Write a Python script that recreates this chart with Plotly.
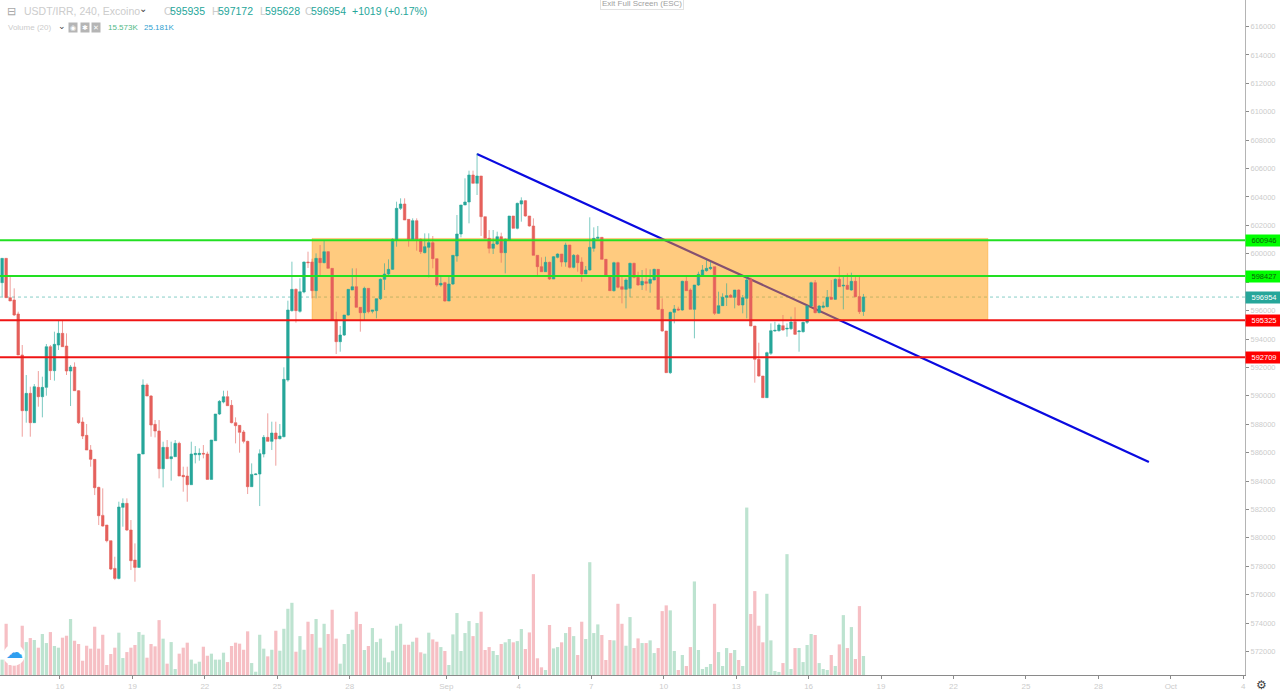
import pandas as pd
import plotly.graph_objects as go

# 4h candles, USDT/IRR
times = pd.date_range("2019-08-13 10:30", periods=216, freq="4h")

opens = [
    601322,597966,599679,596910,596745,595760,592873,588953,590174,588108,590596,589939,590596,593459,591770,
    593577,594398,593506,591746,592028,590361,588155,587217,586184,585527,583555,581583,580903,579800,577852,577148,582147,582429,580551,578439,
    577922,585902,590760,589986,587991,587522,584869,586372,585574,585714,586653,584400,584353,583743,585855,585855,585949,585902,584118,586841,
    588719,589563,589939,589329,588108,587921,587451,586794,583602,584447,584494,585902,587076,586794,587381,586982,587123,591112,595994,597496,
    595947,597309,599421,599420,597402,599678,599373,600148,598974,595336,593811,594280,595688,597449,597683,596228,595853,597566,595946,595993,
    596838,598200,598575,598904,600969,603199,603504,602424,601016,602330,601016,600077,600453,600781,599655,597801,597965,596674,597871,599843,
    601392,603434,603645,605546,604959,605475,602612,601086,600382,600688,601204,600077,600969,602659,601791,603504,603739,602659,601955,599890,
    599092,598739,599397,598223,599749,599983,599420,600617,599045,599890,599420,598575,598857,600383,601087,601158,599609,598435,597402,599374,
    597684,597496,597567,599327,598341,597801,598036,597919,598153,598904,596088,594563,591629,595877,596112,596041,598060,597449,596088,597801,
    598505,598811,598951,599092,595806,596346,596933,597074,596933,597449,596393,596862,598200,594915,592568,591394,589869,592990,594563,594586,
    594938,594703,594727,595220,594516,594516,595173,596323,597966,595853,596229,596276,596933,596792,598200,597731,597778,597449,598060,596980,
    595935,
]
highs = [
    601322,599679,599679,598388,597567,595924,593577,591465,590643,590831,591746,591347,593647,593577,594516,
    595290,595290,594398,592169,592356,590408,588484,588014,586536,585527,583602,583485,580903,579800,578673,582546,582780,582780,581255,579612,
    585902,591159,590878,590056,588296,588296,586771,586888,586771,586888,586771,585010,585010,586771,586465,586301,586536,586066,586888,588719,
    589704,590361,590361,589704,588484,587944,587592,586841,585245,584541,586231,587240,588766,588179,588179,588014,592005,596698,599444,597567,
    598271,599444,600148,599650,600031,600617,600969,600195,598974,595923,594914,595688,597496,598974,598974,596228,597683,597566,596040,596838,
    598270,599326,599608,601086,603668,603903,603903,602424,602495,602495,601086,601438,601438,601251,599655,598505,598035,598387,599890,602729,
    603434,605311,605851,605851,607071,605475,602612,601673,601673,601556,601485,601086,602659,602659,603598,603973,603786,602659,602495,599890,
    599749,599796,599444,599843,600030,599983,600781,600617,599983,599983,599749,599139,602565,601862,601956,601158,599609,598505,599444,599444,
    598388,598271,599374,599374,598740,598858,598975,598904,598951,598904,596862,594563,595924,596393,596276,598106,598388,597567,597801,598740,
    599209,599562,599444,599092,597332,597215,597919,597168,597449,597496,597097,598388,598341,594915,593741,591394,593107,595102,595220,595102,
    595689,595102,595572,596229,594633,595220,596393,598036,598153,596393,596628,597449,598153,598271,599092,598505,598623,598670,598388,598388,
    597172,
]
lows = [
    597966,596980,596910,596675,595619,592873,587123,588108,587123,588108,589235,588484,590009,591112,591066,
    593225,593459,591465,589282,590361,588014,586958,586184,585010,583015,580903,580786,579683,577735,577030,577077,580786,580480,577735,576913,
    577922,585902,589986,587123,587076,584189,583555,585574,584025,585714,584353,583250,582546,583743,585245,585433,585597,584118,584118,586841,
    588648,589470,589305,588061,586653,585996,586653,583086,583602,584424,582241,585668,586794,586184,585081,586935,587076,590995,595924,595149,
    595853,597215,599000,596863,596863,598387,599326,598974,595336,592942,593107,594210,595641,597449,596228,594515,595336,595806,595806,595453,
    596744,597449,598505,598857,600500,603081,602377,600500,601016,600218,599983,600030,598340,598974,597683,597683,596627,596674,597801,599444,
    601157,603434,602143,604959,604138,601251,601086,600030,599983,600617,599373,598622,600969,601791,601720,602260,602612,601908,599890,598505,
    598739,598739,598153,598223,599678,599092,599092,598974,598974,598739,598035,598575,598810,600148,601017,599609,598388,597402,597332,597567,
    596511,596158,596933,598271,597754,597449,597402,597262,598153,596041,594516,591629,591535,595102,595994,595994,597402,596088,594046,597731,
    598458,598740,598858,595689,595760,596323,596323,596886,596158,596323,595806,595454,594915,590925,591347,589869,589869,592873,594516,594516,
    594586,594164,594633,594281,593107,594445,595055,596276,595806,595806,596158,596229,596745,596745,597684,596088,597449,597402,596933,595760,
    595628,
]
closes = [
    597966,599679,596910,596675,595689,592873,588953,590174,588108,590643,589939,590596,593459,591770,593624,
    594398,593459,591746,592028,590361,588108,587170,586184,585527,583532,581560,580833,579800,577805,577148,582170,582429,580551,578392,577922,
    585902,590760,589986,587944,587522,584869,586372,585574,585714,586653,584353,584306,583743,585902,585949,585949,585902,584118,586888,588719,
    589610,589939,589305,588108,587897,587428,586794,583602,584470,584494,585926,587076,586794,587381,586958,587170,591159,596041,597496,595994,
    597332,599421,599374,597402,599678,599373,600148,598974,595336,593811,594280,595688,597496,597683,596228,595853,597566,595923,596040,596838,
    598200,598575,598904,601016,603199,603504,602377,601016,602330,601016,600148,600500,600781,599655,597801,597918,596674,597871,599890,601392,
    603434,603645,605546,604959,605475,602612,601086,600382,600688,601204,600077,601016,602659,601791,603551,603739,602659,601955,599890,599092,
    598739,599397,598223,599796,599983,599420,600617,599045,599890,599373,598575,598857,600453,601087,601158,599609,598435,597402,599374,597637,
    597496,598153,599327,598341,597801,598060,597919,598200,598904,596088,594563,591629,595877,596112,596041,598060,597402,596088,597801,598552,
    598858,598975,599045,595806,596346,596933,597050,596933,597449,596393,596910,598153,594915,592568,591394,589869,593037,594586,594609,594985,
    594633,594750,595196,594328,594563,595173,596323,597966,595853,596323,596323,596933,596792,598200,597684,597778,597496,598060,596980,595924,
    596954,
]
# volume in thousands
volumes = [
    13.7,12.6,42.0,8.2,8.2,9.6,40.4,27.0,30.3,28.7,22.4,33.6,26.2,35.2,23.8,
    22.4,30.6,32.2,45.9,28.1,25.4,11.7,24.0,21.6,39.6,21.6,33.0,8.2,17.2,22.4,34.7,13.9,18.8,22.4,24.6,
    35.2,33.0,14.2,25.4,23.5,45.0,29.8,9.3,27.0,4.9,17.5,22.4,26.5,12.6,9.3,10.9,23.2,15.8,17.5,12.6,
    12.6,18.3,10.6,23.8,26.5,25.7,20.7,35.8,9.8,2.7,33.0,21.6,15.3,20.7,36.3,19.9,37.9,54.3,59.2,19.1,
    31.9,20.7,43.7,33.6,45.9,22.4,42.0,33.6,53.5,29.8,9.3,25.4,33.6,37.1,51.9,41.8,20.5,23.8,38.5,27.0,
    29.8,14.2,10.4,19.9,40.4,42.0,24.8,24.8,27.3,30.6,18.6,17.5,34.7,29.2,27.3,22.9,19.7,8.2,33.3,50.8,
    19.7,34.4,44.2,31.9,42.6,51.9,20.5,22.9,19.7,16.4,25.4,26.8,29.5,26.8,27.8,37.7,21.3,34.9,82.7,13.7,
    6.3,4.1,41.0,21.8,22.9,26.8,34.4,39.3,31.9,16.4,43.7,29.5,92.5,34.4,41.5,32.8,12.3,28.7,28.4,58.4,
    42.0,24.0,47.5,22.1,30.0,26.2,26.2,28.4,18.0,22.1,52.4,57.1,53.0,19.7,4.1,16.4,7.4,22.9,76.7,20.5,
    4.9,6.6,9.0,58.4,18.8,7.4,22.1,18.0,20.5,12.3,7.4,137.3,50.0,68.8,40.4,26.8,66.6,28.4,3.3,2.5,
    9.8,99.1,4.9,22.1,22.1,10.6,24.6,33.6,32.8,9.8,4.9,4.1,16.4,7.4,25.1,49.1,22.1,39.3,13.1,56.5,
    15.6,
]

support_levels = [595325, 592709]
resist_levels = [600946, 598427]
last_price = 596954

zone_x = ["2019-08-26 10:30", "2019-09-23 10:10"]
zone_y = [595325, 601080]
trend_x = ["2019-09-02 06:24", "2019-09-30 02:10"]
trend_y = [607024, 585341]

price_ticks = list(range(572000, 618000, 2000))
# 598000 is covered by the 598427 tag
price_labels = ["" if p == 598000 else str(p) for p in price_ticks]
date_ticks = ["2019-08-16", "2019-08-19", "2019-08-22", "2019-08-25", "2019-08-28", "2019-09-01", "2019-09-04",
              "2019-09-07", "2019-09-10", "2019-09-13", "2019-09-16", "2019-09-19", "2019-09-22", "2019-09-25",
              "2019-09-28", "2019-10-01", "2019-10-04"]
date_labels = ["16", "19", "22", "25", "28", "Sep", "4", "7", "10", "13", "16", "19", "22", "25", "28", "Oct", "4"]

PLOT_W = 1245
PLOT_H = 675
UP = "#26a69a"
DOWN = "#e5605c"
FONT = "Liberation Sans"
LABEL = "#cccccc"


def note(text, x, y, size=10, color=LABEL, anchor="left", **kw):
    # x, y are screen pixels
    return dict(text=text, xref="paper", yref="paper", x=x / PLOT_W, y=1 - y / PLOT_H, showarrow=False,
                xanchor=anchor, yanchor="middle", font=dict(family=FONT, size=size, color=color), **kw)


def price_tag(value, bg, fg):
    return dict(text=str(value), xref="paper", yref="y", x=1, y=value, xanchor="left", yanchor="middle",
                showarrow=False, width=36, height=11, borderpad=0, bgcolor=bg, align="center",
                font=dict(family=FONT, size=7.5, color=fg))


vol_colors = ["#bde3d0" if c >= o else "#f6bfc4" for o, c in zip(opens, closes)]

fig = go.Figure()
fig.add_trace(go.Bar(x=times, y=volumes, yaxis="y2", marker=dict(color=vol_colors, line=dict(width=0)), hoverinfo="skip"))
fig.add_trace(go.Candlestick(
    x=times, open=opens, high=highs, low=lows, close=closes, whiskerwidth=0,
    increasing=dict(line=dict(color="rgba(38,166,154,0.6)", width=1), fillcolor=UP),
    decreasing=dict(line=dict(color="rgba(229,96,92,0.6)", width=1), fillcolor=DOWN),
))

# trend line sits under the zone, candles go over both
fig.add_shape(type="line", x0=trend_x[0], x1=trend_x[1], y0=trend_y[0], y1=trend_y[1], layer="below",
              line=dict(color="#0a0ae0", width=2.2))
fig.add_shape(type="rect", x0=zone_x[0], x1=zone_x[1], y0=zone_y[0], y1=zone_y[1], layer="below",
              fillcolor="rgba(255,152,0,0.5)", line=dict(color="rgba(255,152,0,0.35)", width=1))
fig.add_shape(type="line", xref="paper", x0=0, x1=1, y0=last_price, y1=last_price, layer="below",
              line=dict(color="rgba(38,166,154,0.55)", width=1, dash="dot"))
for level in resist_levels:
    fig.add_shape(type="line", xref="paper", x0=0, x1=1, y0=level, y1=level, line=dict(color="#22e022", width=2))
for level in support_levels:
    fig.add_shape(type="line", xref="paper", x0=0, x1=1, y0=level, y1=level, line=dict(color="#f01414", width=2))

# logo badge
fig.add_shape(type="circle", xref="paper", yref="paper", x0=3.3 / PLOT_W, x1=24.7 / PLOT_W,
              y0=1 - 665.7 / PLOT_H, y1=1 - 644.3 / PLOT_H, fillcolor="white", line=dict(width=0))

annotations = [price_tag(v, "#00ff00", "#0b5d0b") for v in resist_levels]
annotations += [price_tag(v, "#ff0000", "white") for v in support_levels]
annotations += [price_tag(last_price, UP, "white")]
annotations += [
    note("⊟", 5, 11, size=11, color="#a8a8a8"),
    note("USDT/IRR, 240, Excoino", 22, 11, size=10.5),
    note("⌄", 137, 9, size=10, color="#444444"),
    note("O", 162, 11, size=10.5),
    note("595935", 168, 11, size=10.5, color=UP),
    note("H", 210, 11, size=10.5),
    note("597172", 216, 11, size=10.5, color=UP),
    note("L", 258, 11, size=10.5),
    note("595628", 263, 11, size=10.5, color=UP),
    note("C", 303, 11, size=10.5),
    note("596954", 309, 11, size=10.5, color=UP),
    note("+1019 (+0.17%)", 350, 11, size=10.5, color=UP),
    note("Volume (20)", 6, 28, size=8),
    note("⌄", 56, 26, size=9, color="#444444"),
    note("◉", 68, 28, size=7, color="white", bgcolor="#b5b5b5"),
    note("✱", 79.5, 28, size=7, color="white", bgcolor="#b5b5b5"),
    note("✕", 91, 28, size=7, color="white", bgcolor="#b5b5b5"),
    note("15.573K", 106, 28, size=8, color="#53b987"),
    note("25.181K", 142, 28, size=8, color="#2f9fd0"),
    note("Exit Full Screen (ESC)", 642, 3, size=8, color="#a0a0a0", anchor="center", bgcolor="white",
         bordercolor="#e2e2e2", borderwidth=1, borderpad=1),
    note("☁", 14, 652, size=17, color="#2f9ff0", anchor="center"),
    note("⚙", 1262, 685, size=12, color="#444444", anchor="center"),
]

fig.update_layout(
    width=1280, height=692, margin=dict(l=0, r=35, t=0, b=17),
    paper_bgcolor="white", plot_bgcolor="white", showlegend=False, boxgap=0.1, bargap=0.2,
    xaxis=dict(type="date", range=["2019-08-13 12:24", "2019-10-04 01:40"], rangeslider=dict(visible=False),
               tickmode="array", tickvals=date_ticks, ticktext=date_labels, showgrid=False, zeroline=False,
               showline=True, linecolor="#8a8a8a", linewidth=1, ticks="outside", ticklen=3, tickcolor="#8a8a8a",
               tickfont=dict(family=FONT, size=8, color=LABEL)),
    yaxis=dict(side="right", range=[570346, 617866], tickmode="array", tickvals=price_ticks,
               ticktext=price_labels, showgrid=False, zeroline=False, showline=True,
               linecolor="#b4b4b4", linewidth=1, ticks="outside", ticklen=3, tickcolor="#8a8a8a",
               tickfont=dict(family=FONT, size=7.5, color=LABEL)),
    yaxis2=dict(overlaying="y", range=[0, 553.5], visible=False),
    annotations=annotations,
)

fig.write_html("out.html", config=dict(displayModeBar=False), post_script="document.body.style.margin='0';")
